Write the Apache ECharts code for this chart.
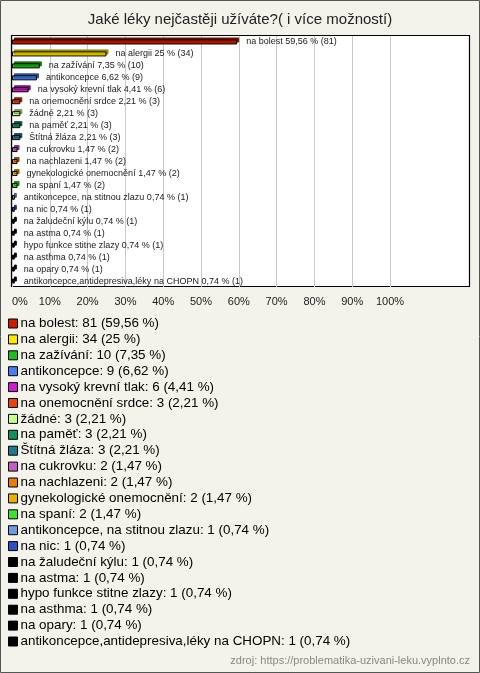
<!DOCTYPE html>
<html>
<head>
<meta charset="utf-8">
<script src="https://cdn.jsdelivr.net/npm/echarts@6/dist/echarts.min.js"></script>
<style>
html,body{margin:0;padding:0;background:#f3f2eb;}
#c{width:480px;height:673px;}
</style>
</head>
<body>
<div id="c"></div>
<script>
const categories = ["na bolest","na alergii","na zažívání","antikoncepce","na vysoký krevní tlak","na onemocnění srdce","žádné","na paměť","Štítná žláza","na cukrovku","na nachlazeni","gynekologické onemocnění","na spaní","antikoncepce, na stitnou zlazu","na nic","na žaludeční kýlu","na astma","hypo funkce stitne zlazy","na asthma","na opary","antikoncepce,antidepresiva,léky na CHOPN"];
const counts = [81,34,10,9,6,3,3,3,3,2,2,2,2,1,1,1,1,1,1,1,1];
const percents = [59.56,25,7.35,6.62,4.41,2.21,2.21,2.21,2.21,1.47,1.47,1.47,1.47,0.74,0.74,0.74,0.74,0.74,0.74,0.74,0.74];
const colors = ["#c81e00","#ffe600","#1fbb1f","#4a7ef0","#cc1fcc","#e8420f","#c8ff88","#119060","#1f7a8a","#c060c0","#e87b10","#e8b000","#40e030","#6e9be0","#2e50c0","#000000","#000000","#000000","#000000","#000000","#000000"];
const xTicks = [0,10,20,30,40,50,60,70,80,90,100];

function fmt(v){ return String(v).replace('.', ','); }
function darker(hex){
  const n = parseInt(hex.slice(1),16);
  const r = Math.round(((n>>16)&255)*0.6), g = Math.round(((n>>8)&255)*0.6), b = Math.round((n&255)*0.6);
  return 'rgb('+r+','+g+','+b+')';
}

const series = categories.map((name,i)=>{
  const data = categories.map((_,j)=> j===i ? percents[i] : '-');
  return {
    name: name,
    type: 'bar',
    data: data,
    barWidth: 5,
    barGap: '-100%',
    itemStyle: {
      color: colors[i],
      borderColor: '#000',
      borderWidth: 1,
      shadowColor: colors[i]==='#000000' ? '#000' : darker(colors[i]),
      shadowOffsetX: 2,
      shadowOffsetY: -2,
      shadowBlur: 0
    },
    label: {
      show: true,
      position: 'right',
      distance: 9,
      fontFamily: 'Liberation Sans, Arial, sans-serif',
      fontSize: 9,
      color: '#222',
      formatter: () => name + ' ' + fmt(percents[i]) + ' % (' + counts[i] + ')'
    },
    emphasis: {disabled: true},
    animation: false
  };
});

const legendText = {};
categories.forEach((c,i)=>{ legendText[c] = c + ': ' + counts[i] + ' (' + fmt(percents[i]) + ' %)'; });

const chart = echarts.init(document.getElementById('c'), null, {renderer:'canvas'});
chart.setOption({
  backgroundColor: '#f3f2eb',
  animation: false,
  title: {
    text: 'Jaké léky nejčastěji užíváte?( i více možností)',
    left: 'center',
    top: 7,
    textStyle: {fontFamily:'Liberation Sans, Arial, sans-serif', fontSize: 15, fontWeight: 'normal', color: '#222'}
  },
  graphic: [
    {type:'rect', shape:{x:0.5,y:0.5,width:479,height:672}, style:{fill:'none', stroke:'#555', lineWidth:1}, z:-20},
    {type:'rect', shape:{x:11.5,y:35.5,width:458,height:251}, style:{fill:'#fff', stroke:'#000', lineWidth:1.2}, z:-10},
    {type:'text', right: 10, top: 655, style:{text:'zdroj: https://problematika-uzivani-leku.vyplnto.cz', fill:'#888', font:'11px Liberation Sans, Arial, sans-serif'}}
  ],
  grid: {left: 12, right: 90, top: 36, bottom: 386, containLabel: false},
  xAxis: {
    type: 'value', min: 0, max: 100, interval: 10,
    axisLine: {show:false}, axisTick: {show:false},
    splitLine: {show:true, lineStyle:{color:'#c8c8c8', width:1}},
    axisLabel: {formatter: v => xTicks.includes(v) ? v + '%' : '', fontFamily:'Liberation Sans, Arial, sans-serif', fontSize: 11, color:'#222', margin: 9, alignMinLabel: 'left'}
  },
  yAxis: {
    type: 'category', data: categories, inverse: true,
    axisLine:{show:false}, axisTick:{show:false}, axisLabel:{show:false}, splitLine:{show:false}
  },
  legend: {
    orient: 'vertical',
    left: 3, top: 312,
    itemWidth: 9, itemHeight: 9, itemGap: 2.9,
    icon: 'rect',
    selectedMode: false,
    data: categories,
    itemStyle: {borderColor:'#000', borderWidth: 1, shadowBlur: 0, shadowColor:'transparent', shadowOffsetX:0, shadowOffsetY:0},
    formatter: name => legendText[name],
    textStyle: {fontFamily:'Liberation Sans, Arial, sans-serif', fontSize: 13.4, color:'#000', padding:[0,0,0,-2]}
  },
  series: series
});
</script>
</body>
</html>
